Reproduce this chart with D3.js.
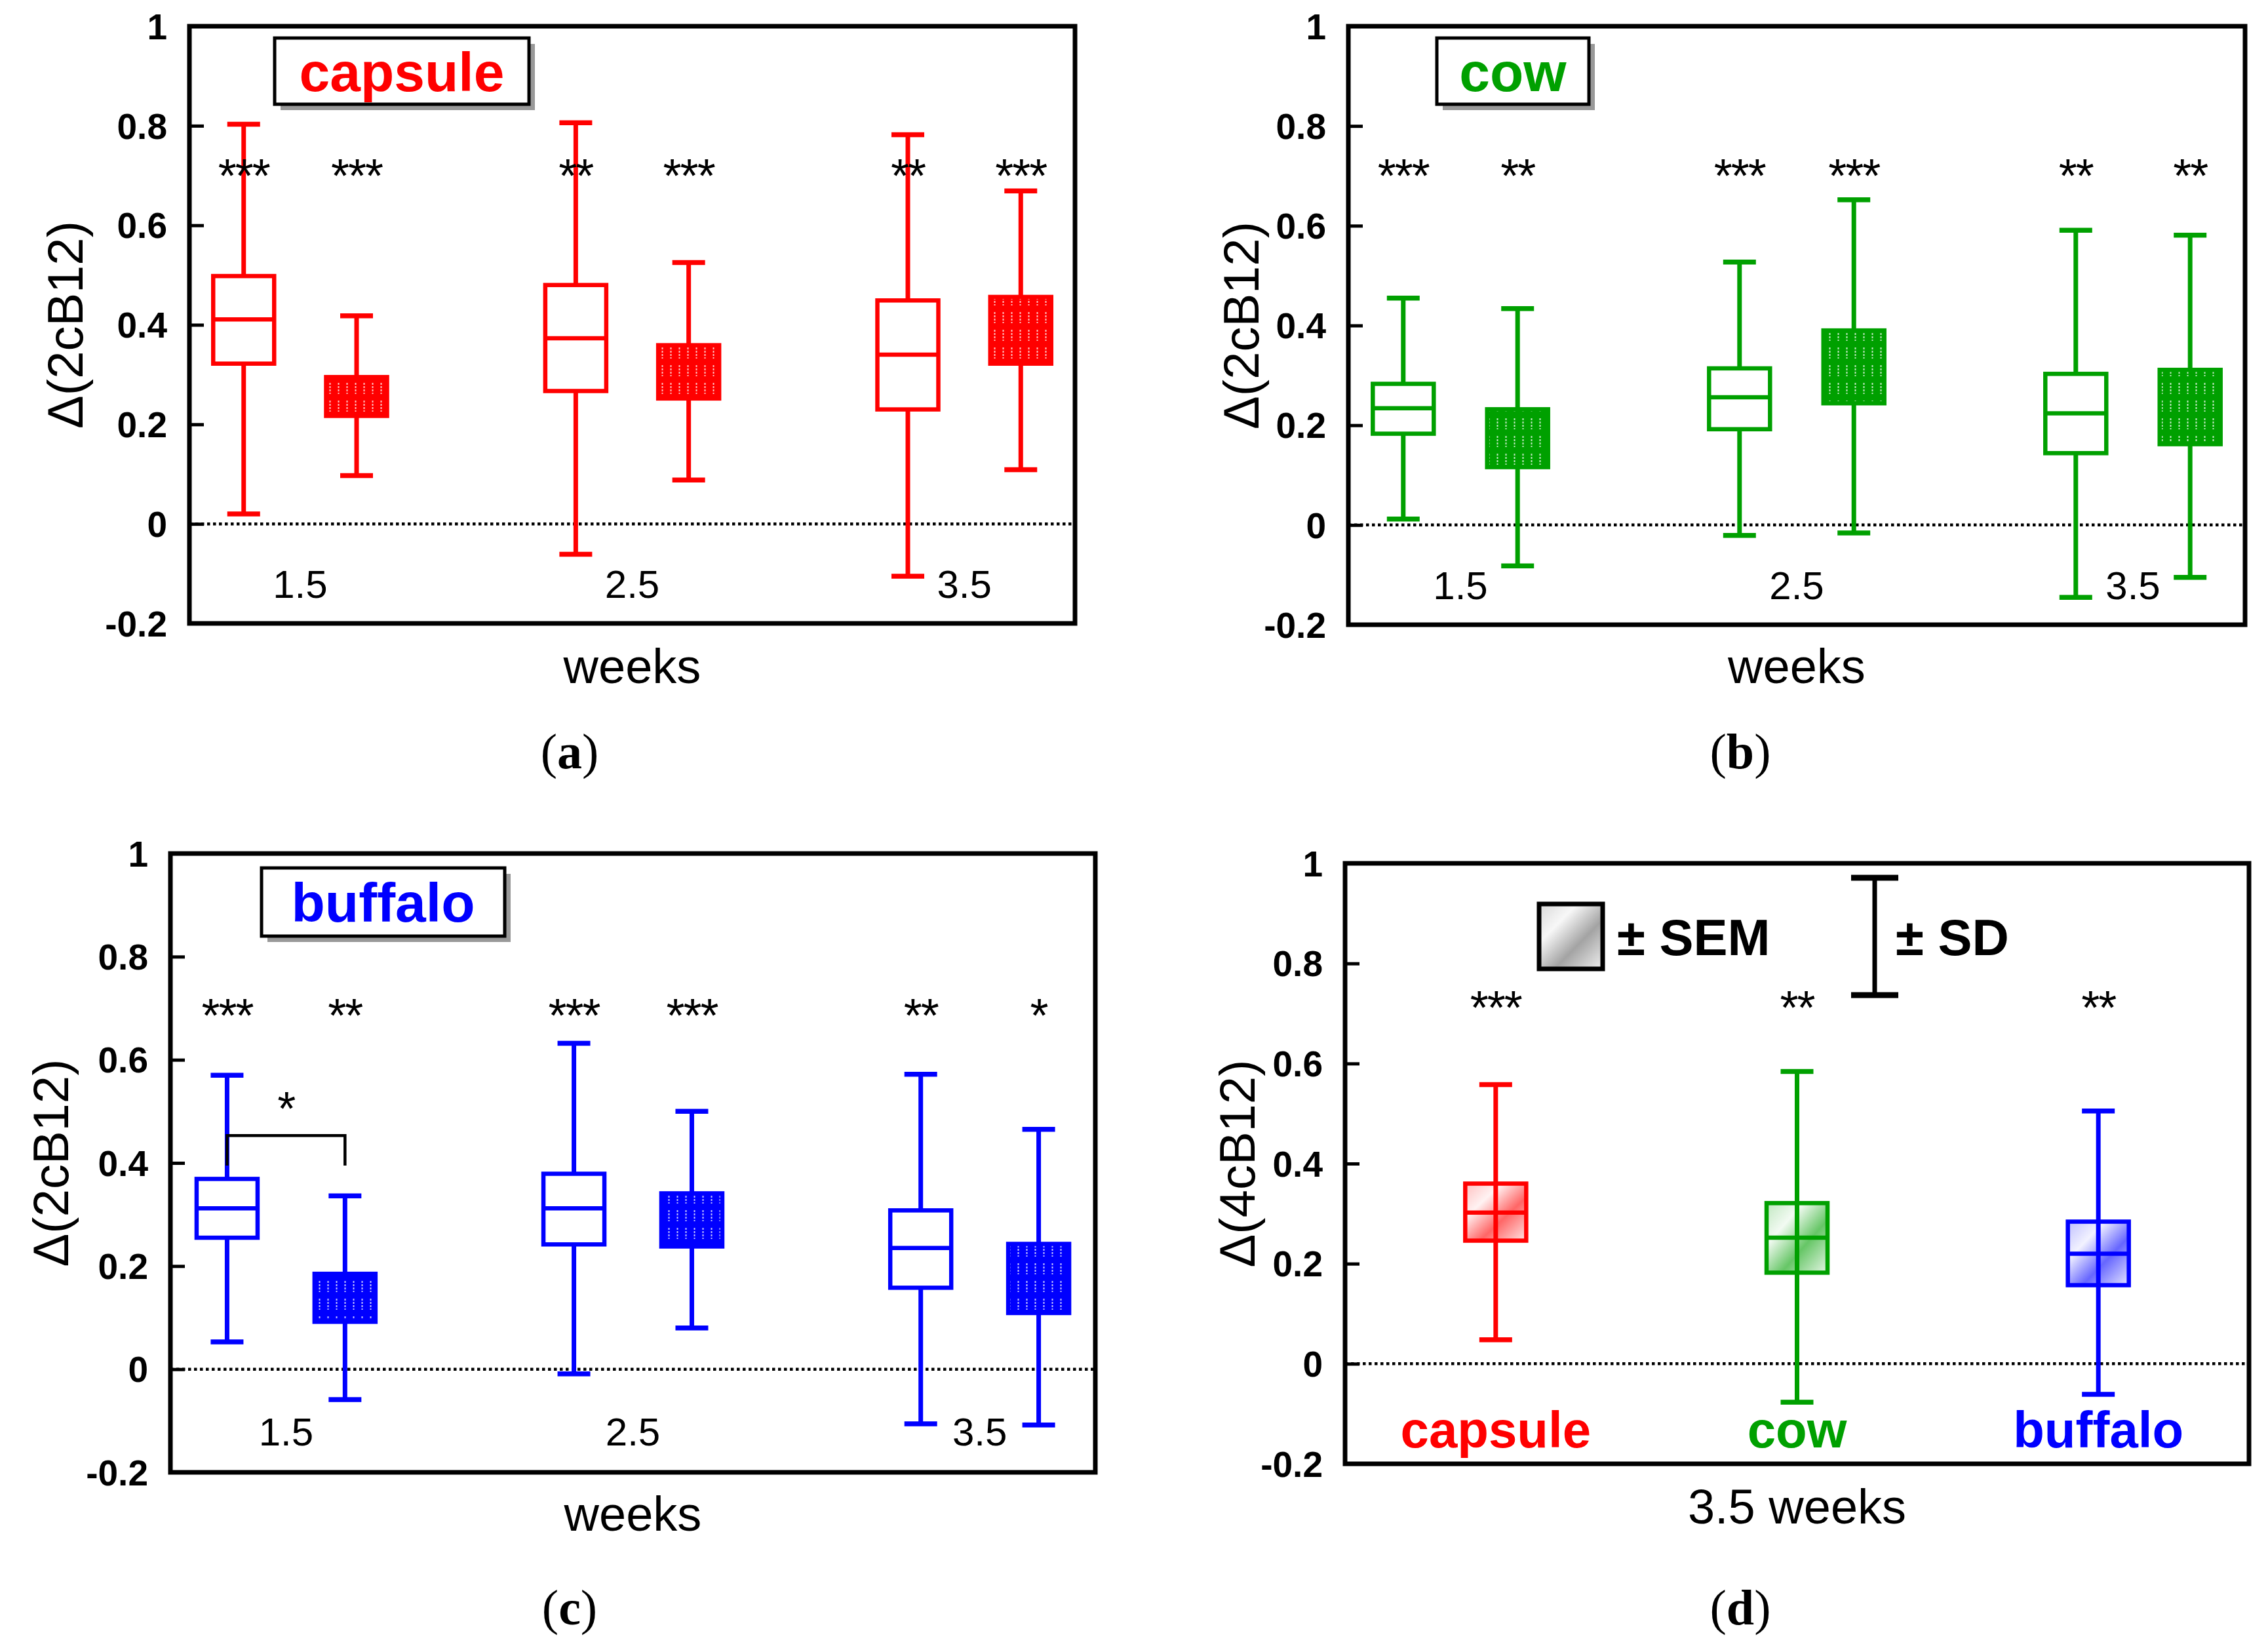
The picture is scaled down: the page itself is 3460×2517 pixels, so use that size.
<!DOCTYPE html>
<html>
<head>
<meta charset="utf-8">
<script src="https://cdn.jsdelivr.net/npm/d3@7"></script>
<style>
body { margin: 0; background: #fff; }
svg { display: block; }
</style>
</head>
<body>
<svg id="chart" width="3460" height="2517"></svg>
<script>
const weeks = [1.5, 2.5, 3.5];
const yTicks = [-0.2, 0, 0.2, 0.4, 0.6, 0.8, 1];

// each row: [low whisker, box bottom, median, box top, high whisker]
const capsuleOpen = [[0.020, 0.322, 0.411, 0.498, 0.803], [-0.061, 0.267, 0.373, 0.480, 0.806], [-0.105, 0.230, 0.340, 0.449, 0.782]];
const capsuleFilled = [[0.097, 0.217, null, 0.295, 0.418], [0.088, 0.252, null, 0.359, 0.525], [0.109, 0.322, null, 0.456, 0.669]];
const capsuleStars = ["***", "***", "**", "***", "**", "***"];

const cowOpen = [[0.012, 0.183, 0.234, 0.283, 0.455], [-0.021, 0.192, 0.256, 0.314, 0.527], [-0.145, 0.144, 0.224, 0.303, 0.591]];
const cowFilled = [[-0.082, 0.116, null, 0.232, 0.434], [-0.016, 0.244, null, 0.390, 0.652], [-0.105, 0.162, null, 0.311, 0.581]];
const cowStars = ["***", "**", "***", "***", "**", "**"];

const buffaloOpen = [[0.053, 0.255, 0.312, 0.369, 0.570], [-0.009, 0.242, 0.312, 0.379, 0.632], [-0.106, 0.158, 0.235, 0.308, 0.572]];
const buffaloFilled = [[-0.059, 0.092, null, 0.185, 0.336], [0.080, 0.238, null, 0.341, 0.500], [-0.108, 0.109, null, 0.243, 0.465]];
const buffaloStars = ["***", "**", "***", "***", "**", "*"];
const buffaloBracket = [0.395, 0.453];

const sources = ["capsule", "cow", "buffalo"];
const week35 = [[0.048, 0.246, 0.302, 0.360, 0.558], [-0.077, 0.182, 0.252, 0.321, 0.584], [-0.061, 0.157, 0.220, 0.284, 0.505]];
const week35Stars = ["***", "**", "**"];

const RED = "#ff0000", GREEN = "#00a000", BLUE = "#0000ff";
const SANS = "'Liberation Sans', Arial, sans-serif";
const SERIF = "'Liberation Serif', 'Times New Roman', serif";

const svg = d3.select("#chart");
const defs = svg.append("defs");

function dotted(id, color) {
	const p = defs.append("pattern").attr("id", id)
		.attr("patternUnits", "userSpaceOnUse").attr("width", 13).attr("height", 27);
	p.append("rect").attr("width", 13).attr("height", 27).attr("fill", color);
	p.append("path").attr("d", "M6.5,4 v17")
		.attr("stroke", "#fff").attr("stroke-width", 2)
		.attr("stroke-dasharray", "3,2").attr("opacity", 0.75);
}
function shade(id, color, k) {
	const g = defs.append("linearGradient").attr("id", id)
		.attr("x1", 0).attr("y1", 0).attr("x2", 1).attr("y2", 1);
	g.append("stop").attr("offset", "0%").attr("stop-color", color).attr("stop-opacity", 0.25 * k);
	g.append("stop").attr("offset", "30%").attr("stop-color", color).attr("stop-opacity", 0.05 * k);
	g.append("stop").attr("offset", "62%").attr("stop-color", color).attr("stop-opacity", 0.6 * k);
	g.append("stop").attr("offset", "100%").attr("stop-color", color).attr("stop-opacity", 0.1 * k);
}
dotted("dotRed", RED); dotted("dotGreen", GREEN); dotted("dotBlue", BLUE);
shade("shRed", RED, 1); shade("shGreen", GREEN, 1); shade("shBlue", BLUE, 1); shade("shGray", "#000", 0.6);

function panelFrame(box, yLabelText, yLabelDx) {
	const g = svg.append("g").attr("transform", `translate(${box.x},${box.y})`);
	const y = d3.scaleLinear().domain([-0.2, 1]).range([box.h, 0]);

	const ax = g.append("g").call(d3.axisLeft(y).tickValues(yTicks)
		.tickSize(-22).tickPadding(34).tickFormat(d => String(d)));
	ax.select(".domain").remove();
	ax.selectAll("line").attr("stroke", "#000").attr("stroke-width", 5);
	ax.selectAll("text").attr("font-family", SANS).attr("font-weight", "bold")
		.attr("font-size", 55).attr("fill", "#000").attr("dy", "0.35em");

	g.append("line").attr("x1", 0).attr("x2", box.w).attr("y1", y(0)).attr("y2", y(0))
		.attr("stroke", "#000").attr("stroke-width", 4.5).attr("stroke-dasharray", "4.5,4.5");

	g.append("text").attr("transform", `translate(${yLabelDx},${box.h / 2}) rotate(-90)`)
		.attr("text-anchor", "middle").attr("dy", "0.35em")
		.attr("font-family", SANS).attr("font-size", 76).text(yLabelText);
	return { g, y };
}

function frameBorder(g, box) {
	g.append("rect").attr("width", box.w).attr("height", box.h)
		.attr("fill", "none").attr("stroke", "#000").attr("stroke-width", 7);
}

function boxPlot(g, y, cx, row, color, fill, bw) {
	const [lo, q1, mid, q3, hi] = row;
	const cap = 50;
	g.append("line").attr("x1", cx).attr("x2", cx).attr("y1", y(lo)).attr("y2", y(hi))
		.attr("stroke", color).attr("stroke-width", 7);
	[lo, hi].forEach(v => g.append("line")
		.attr("x1", cx - cap / 2).attr("x2", cx + cap / 2).attr("y1", y(v)).attr("y2", y(v))
		.attr("stroke", color).attr("stroke-width", 7.5));
	g.append("rect").attr("x", cx - bw / 2).attr("width", bw)
		.attr("y", y(q3)).attr("height", y(q1) - y(q3))
		.attr("fill", fill).attr("stroke", color).attr("stroke-width", 6.5);
	if (mid !== null) {
		g.append("line").attr("x1", cx - bw / 2).attr("x2", cx + bw / 2)
			.attr("y1", y(mid)).attr("y2", y(mid))
			.attr("stroke", color).attr("stroke-width", 6.5);
	}
}

function tag(g, x, yTop, w, h, text, color) {
	g.append("rect").attr("x", x + 9).attr("y", yTop + 9).attr("width", w).attr("height", h).attr("fill", "#999");
	g.append("rect").attr("x", x).attr("y", yTop).attr("width", w).attr("height", h)
		.attr("fill", "#fff").attr("stroke", "#000").attr("stroke-width", 5);
	g.append("text").attr("x", x + w / 2).attr("y", yTop + h / 2).attr("dy", "0.36em")
		.attr("text-anchor", "middle").attr("font-family", SANS).attr("font-weight", "bold")
		.attr("font-size", 84).attr("fill", color).text(text);
}

function bottomText(x, y, text) {
	svg.append("text").attr("x", x).attr("y", y).attr("text-anchor", "middle")
		.attr("font-family", SANS).attr("font-size", 74).text(text);
}
function letter(x, y, l) {
	const t = svg.append("text").attr("x", x).attr("y", y).attr("text-anchor", "middle")
		.attr("font-family", SERIF).attr("font-size", 76);
	t.append("tspan").text("(");
	t.append("tspan").attr("font-weight", "bold").text(l);
	t.append("tspan").text(")");
}

function stars(g, xs, yv, labels) {
	g.selectAll(null).data(labels).enter().append("text")
		.attr("x", (d, i) => xs[i]).attr("y", yv).attr("dy", "0.45em")
		.attr("text-anchor", "middle").attr("font-family", SANS).attr("font-size", 72)
		.attr("letter-spacing", -2).text(d => d);
}

function weeksPanel(box, open, filled, starLabels, color, dotId, name, tagBox, starY, yLabelDx) {
	const { g, y } = panelFrame(box, "\u0394(2cB12)", yLabelDx);
	const x = d3.scaleLinear().domain([7 / 6, 23 / 6]).range([0, box.w]);
	const off = 0.17, bw = 93;

	weeks.forEach((w, i) => {
		boxPlot(g, y, x(w - off), open[i], color, "#fff", bw);
		boxPlot(g, y, x(w + off), filled[i], color, `url(#${dotId})`, bw);
		g.append("text").attr("x", x(w)).attr("y", y(-0.12)).attr("dy", "0.36em")
			.attr("text-anchor", "middle").attr("font-family", SANS).attr("font-size", 60)
			.text(String(w));
	});

	stars(g, weeks.flatMap(w => [x(w - off), x(w + off)]), y(starY), starLabels);

	tag(g, tagBox[0], tagBox[1], tagBox[2], tagBox[3], name, color);
	frameBorder(g, box);
	return { g, x, y, off };
}

// (a) capsule
const boxA = { x: 289, y: 40, w: 1351, h: 911 };
weeksPanel(boxA, capsuleOpen, capsuleFilled, capsuleStars, RED, "dotRed", "capsule", [130, 18, 388, 101], 0.71, -190);
bottomText(boxA.x + boxA.w / 2, 1042, "weeks");
letter(869, 1172, "a");

// (b) cow
const boxB = { x: 2057, y: 40, w: 1368, h: 913 };
weeksPanel(boxB, cowOpen, cowFilled, cowStars, GREEN, "dotGreen", "cow", [135, 18, 232, 101], 0.71, -164);
bottomText(boxB.x + boxB.w / 2, 1042, "weeks");
letter(2655, 1172, "b");

// (c) buffalo
const boxC = { x: 260, y: 1302, w: 1411, h: 944 };
const pc = weeksPanel(boxC, buffaloOpen, buffaloFilled, buffaloStars, BLUE, "dotBlue", "buffalo", [139, 22, 371, 104], 0.695, -183);
const bx1 = pc.x(weeks[0] - pc.off), bx2 = pc.x(weeks[0] + pc.off);
pc.g.append("path")
	.attr("d", `M${bx1},${pc.y(buffaloBracket[0])} V${pc.y(buffaloBracket[1])} H${bx2} V${pc.y(buffaloBracket[0])}`)
	.attr("fill", "none").attr("stroke", "#000").attr("stroke-width", 4.5);
stars(pc.g, [(bx1 + bx2) / 2], pc.y(0.515), ["*"]);
bottomText(boxC.x + boxC.w / 2, 2335, "weeks");
letter(869, 2478, "c");

// (d) 3.5 weeks
const boxD = { x: 2052, y: 1317, w: 1379, h: 916 };
(function () {
	const { g, y } = panelFrame(boxD, "\u0394(4cB12)", -165);
	const x = d3.scalePoint().domain(sources).range([0, boxD.w]).padding(0.5);
	const colors = [RED, GREEN, BLUE];
	const shades = ["shRed", "shGreen", "shBlue"];
	sources.forEach((s, i) => {
		boxPlot(g, y, x(s), week35[i], colors[i], `url(#${shades[i]})`, 93);
		g.append("text").attr("x", x(s)).attr("y", y(-0.13)).attr("dy", "0.36em")
			.attr("text-anchor", "middle").attr("font-family", SANS).attr("font-weight", "bold")
			.attr("font-size", 78).attr("fill", colors[i]).text(s);
	});
	stars(g, sources.map(s => x(s)), y(0.722), week35Stars);

	// legend
	g.append("rect").attr("x", 296).attr("y", 62).attr("width", 97).attr("height", 99)
		.attr("fill", "url(#shGray)").attr("stroke", "#000").attr("stroke-width", 7);
	g.append("text").attr("x", 415).attr("y", 140).attr("font-family", SANS).attr("font-weight", "bold")
		.attr("font-size", 78).text("\u00b1 SEM");
	const sx = 808;
	g.append("line").attr("x1", sx).attr("x2", sx).attr("y1", 22).attr("y2", 201)
		.attr("stroke", "#000").attr("stroke-width", 7);
	[22, 201].forEach(v => g.append("line").attr("x1", sx - 36).attr("x2", sx + 36)
		.attr("y1", v).attr("y2", v).attr("stroke", "#000").attr("stroke-width", 9));
	g.append("text").attr("x", 840).attr("y", 140).attr("font-family", SANS).attr("font-weight", "bold")
		.attr("font-size", 78).text("\u00b1 SD");

	frameBorder(g, boxD);
})();
bottomText(boxD.x + boxD.w / 2, 2324, "3.5 weeks");
letter(2655, 2478, "d");
</script>
</body>
</html>
